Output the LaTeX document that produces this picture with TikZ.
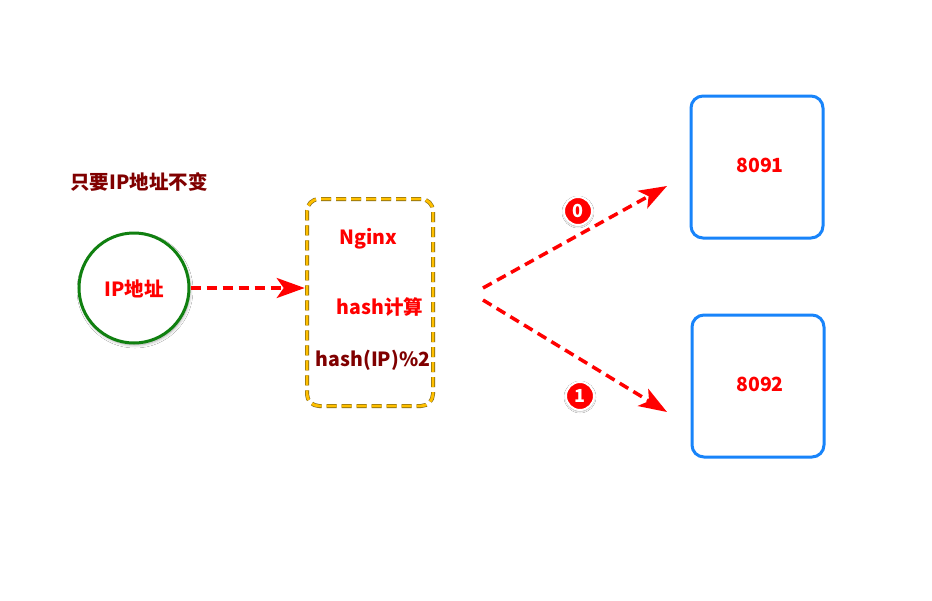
\documentclass[tikz,border=0pt]{standalone}
\usepackage{fontspec}
\setmainfont{Noto Sans CJK SC}
\usetikzlibrary{arrows.meta, shadows.blur}
\definecolor{hashred}{RGB}{255,0,0}
\definecolor{darkred}{RGB}{128,0,0}
\definecolor{ipgreen}{RGB}{16,128,16}
\definecolor{boxblue}{RGB}{24,132,250}
\definecolor{dashyellow}{RGB}{255,192,0}
\definecolor{dashedge}{RGB}{120,96,20}
\tikzset{
	txt/.style={font=\fontsize{19.5}{21}\selectfont\bfseries, inner sep=0pt},
	redarrow/.style={draw=hashred, line width=3.5pt, dash pattern=on 10pt off 6pt,
		-{Stealth[length=28pt, width=20pt, inset=7pt, sep=0pt]}},
	serverbox/.style={draw=boxblue, line width=3pt, rounded corners=12pt,
		minimum width=132pt, minimum height=142pt},
	badge/.style={circle, fill=hashred, draw=white, line width=2pt, minimum size=28pt,
		inner sep=0pt, text=white, font=\fontsize{18}{19}\selectfont\bfseries,
		blur shadow={shadow blur steps=5, shadow blur radius=2pt, shadow xshift=0pt, shadow yshift=-1pt, shadow opacity=45}}
}
\begin{document}
\begin{tikzpicture}[x=1pt, y=-1pt]
	% Paths, nodes and wires:
	\useasboundingbox[fill=white] (0, 0) rectangle (932, 600);
	\node[txt, text=darkred] (title) at (139, 182) {只要IP地址不变};
	\node[circle, draw=ipgreen, line width=3pt, minimum size=110pt, fill=white,
		blur shadow={shadow blur steps=6, shadow blur radius=3pt, shadow xshift=1pt, shadow yshift=-2pt, shadow opacity=35}] (ip) at (134, 288){};
	\node[txt, text=hashred] (iptext) at (134, 289) {IP地址};
	\node[rectangle, rounded corners=12pt, minimum width=126pt, minimum height=207pt,
		draw=dashedge, double=dashyellow, double distance=2.8pt, line width=0.6pt,
		dash pattern=on 10pt off 5pt] (nginx) at (370, 302.5){};
	\node[txt, text=hashred] (ngx) at (368, 239) {Nginx};
	\node[txt, text=hashred] (calc) at (380, 307) {hash计算};
	\node[txt, text=darkred] (modulo) at (373, 360) {hash(IP)\%2};
	\node[serverbox] (s1) at (757, 167){};
	\node[txt, text=hashred] (p1) at (760, 165) {8091};
	\node[serverbox] (s2) at (758, 386){};
	\node[txt, text=hashred] (p2) at (760, 384) {8092};
	\coordinate (fork0) at (483, 288);
	\coordinate (fork1) at (483, 300);
	\coordinate (in0) at (667, 186);
	\coordinate (in1) at (667, 412);
	\draw[redarrow] (ip.east) -- ([xshift=-2pt]nginx.west |- ip.east);
	\draw[redarrow] (fork0) -- (in0);
	\draw[redarrow] (fork1) -- (in1);
	\node[badge] (b0) at (578, 211) {0};
	\node[badge] (b1) at (580, 396) {1};
\end{tikzpicture}
\end{document}
